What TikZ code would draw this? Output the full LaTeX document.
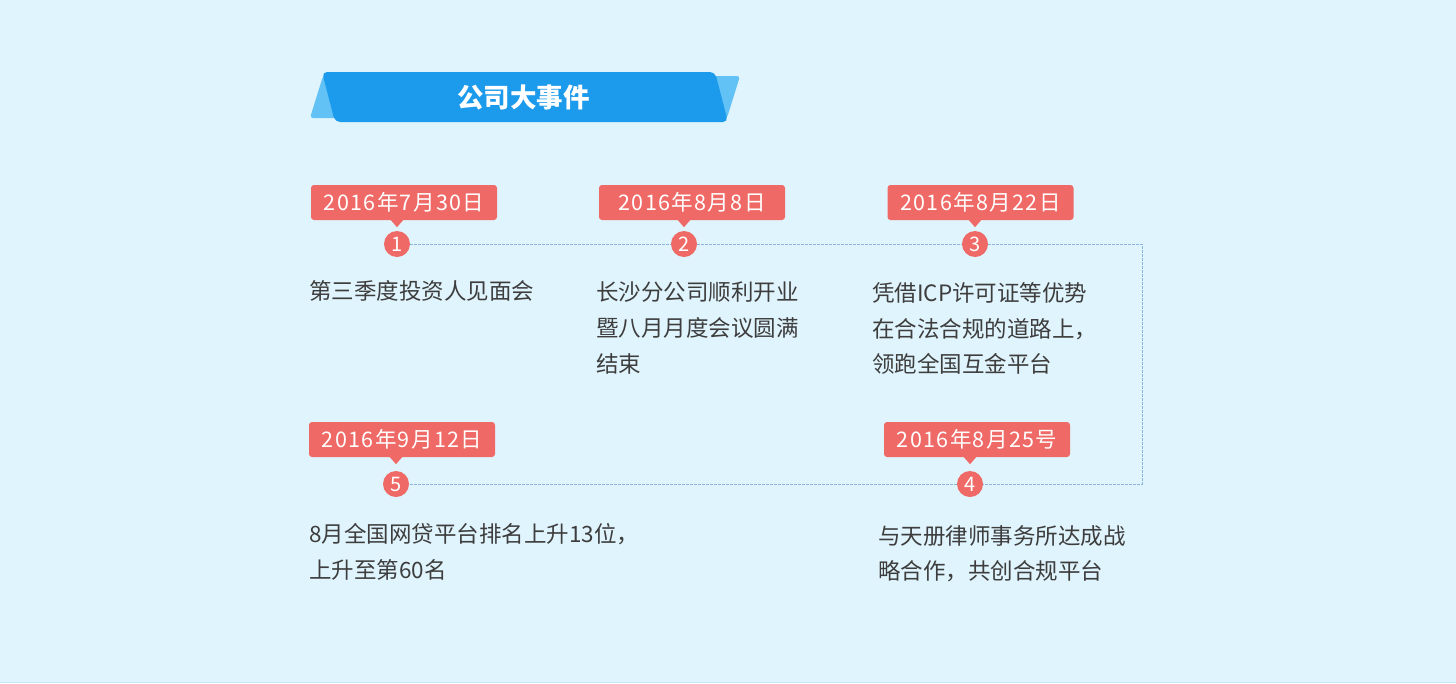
\documentclass[tikz,border=0pt]{standalone}
\usepackage{fontspec}
\setmainfont{Noto Sans CJK SC}
\newfontfamily\cjk{Noto Sans CJK SC}
\newfontfamily\cjkwide{Noto Sans CJK SC}[LetterSpace=6.5]
\definecolor{bgblue}{HTML}{E0F4FD}
\definecolor{darkblue}{HTML}{1C9AEB}
\definecolor{lightblue}{HTML}{63C2F5}
\definecolor{tagred}{HTML}{EF6A66}
\definecolor{textgray}{HTML}{3D3D3D}
\definecolor{linecol}{HTML}{8CB5DD}
\definecolor{edgecol}{HTML}{C5E8F9}
\tikzset{
  tagbox/.style={fill=tagred, rounded corners=3pt, minimum width=186pt, minimum height=35pt,
    inner sep=0pt, text=white, font=\cjkwide\fontsize{21.5}{21.5}\selectfont},
  numdot/.style={circle, fill=tagred, minimum size=26pt, inner sep=0pt, text=white,
    font=\cjk\fontsize{20}{20}\selectfont},
  desc/.style={anchor=north west, inner sep=0pt, align=left, text=textgray,
    font=\cjk\fontsize{22.5}{35.8}\selectfont},
  conn/.style={draw=linecol, line width=1pt, dash pattern=on 2.5pt off 1.5pt},
  pointer/.style={fill=tagred}
}
\begin{document}
\begin{tikzpicture}[x=1pt,y=-1pt]
\fill[bgblue] (0,0) rectangle (1456,683);
\useasboundingbox (0,0) rectangle (1456,683);
\draw[edgecol, line width=1.5pt] (0,682.25) -- (1456,682.25);
% banner
\fill[lightblue, rounded corners=3pt] (323,76) -- (740,76) -- (727,118) -- (310,118) -- cycle;
\fill[darkblue, rounded corners=5pt] (322,72) -- (715,72) -- (728,122) -- (335,122) -- cycle;
\node[text=white, font=\cjk\bfseries\fontsize{26.5}{26.5}\selectfont] (title) at (523.5,97) {公司大事件};
% corner coordinates of the path
\coordinate (k1) at (1142,244);
\coordinate (k2) at (1142,484);
% number dots
\node[numdot] (c1) at (397,244) {1};
\node[numdot] (c2) at (684,244) {2};
\node[numdot] (c3) at (975,244) {3};
\node[numdot] (c4) at (970,484) {4};
\node[numdot] (c5) at (396,484) {5};
\draw[conn] (c1.east) -- (c2.west) (c2.east) -- (c3.west)
  (c3.east) -- (k1) -- (k2) -- (c4.east) (c4.west) -- (c5.east);
% date tags
\node[tagbox] (t1) at (404,202.5) {2016年7月30日};
\node[tagbox] (t2) at (692,202.5) {2016年8月8日};
\node[tagbox] (t3) at (980.5,202.5) {2016年8月22日};
\node[tagbox] (t4) at (977,439.5) {2016年8月25号};
\node[tagbox] (t5) at (402,439.5) {2016年9月12日};
\foreach \t/\c in {t1/c1,t2/c2,t3/c3,t4/c4,t5/c5}{
  \fill[pointer] (\c |- \t.south) +(-7,-1) -- +(0,7) -- +(7,-1) -- cycle;
}
% descriptions
\node[desc] (d1) at (309,280) {第三季度投资人见面会};
\node[desc] (d2) at (596,282) {长沙分公司顺利开业\\暨八月月度会议圆满\\结束};
\node[desc] (d3) at (872,282) {凭借ICP许可证等优势\\在合法合规的道路上，\\领跑全国互金平台};
\node[desc] (d5) at (309,523) {8月全国网贷平台排名上升13位，\\上升至第60名};
\node[desc] (d4) at (878,525) {与天册律师事务所达成战\\略合作，共创合规平台};
\end{tikzpicture}
\end{document}
